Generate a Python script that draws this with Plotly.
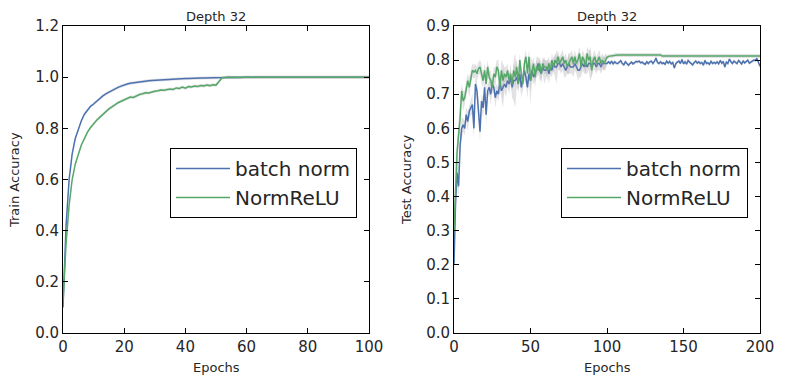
import numpy as np
import plotly.graph_objects as go

# ---- data ----
train_epochs = list(range(0, 101))
train_bn = [0.10, 0.42, 0.60, 0.70, 0.76, 0.80, 0.83, 0.855, 0.873, 0.886,
            0.895, 0.906, 0.917, 0.927, 0.935, 0.942, 0.949, 0.955, 0.960, 0.965,
            0.970, 0.973, 0.976, 0.978, 0.980, 0.982, 0.984, 0.985, 0.986, 0.987,
            0.988, 0.989, 0.990, 0.991, 0.992, 0.992, 0.993, 0.993, 0.994, 0.994,
            0.995, 0.995, 0.996, 0.996, 0.996, 0.997, 0.997, 0.997, 0.998, 0.998,
            0.998, 0.999, 0.999, 0.999, 1.000, 0.999, 1.000, 1.000, 0.999, 1.000,
            1.000, 1.000, 0.999, 1.000, 1.000, 1.000, 1.000, 0.999, 1.000, 1.000,
            1.000, 1.000, 1.000, 0.999, 1.000, 1.000, 1.000, 1.000, 1.000, 1.000,
            0.999, 1.000, 1.000, 1.000, 1.000, 1.000, 1.000, 0.999, 1.000, 1.000,
            1.000, 1.000, 1.000, 1.000, 0.999, 1.000, 1.000, 1.000, 1.000, 1.000,
            1.000]
train_nr = [0.12, 0.35, 0.50, 0.60, 0.66, 0.70, 0.735, 0.76, 0.785, 0.803,
            0.818, 0.832, 0.843, 0.855, 0.866, 0.876, 0.884, 0.893, 0.900, 0.906,
            0.912, 0.917, 0.922, 0.921, 0.928, 0.932, 0.935, 0.939, 0.938, 0.943,
            0.945, 0.947, 0.950, 0.949, 0.953, 0.954, 0.952, 0.958, 0.956, 0.961,
            0.957, 0.963, 0.962, 0.965, 0.964, 0.967, 0.966, 0.969, 0.967, 0.970,
            0.969, 0.985, 0.998, 0.999, 1.000, 1.000, 0.999, 1.000, 1.000, 1.000,
            1.000, 0.999, 1.000, 1.000, 1.000, 1.000, 1.000, 1.000, 0.999, 1.000,
            1.000, 1.000, 1.000, 1.000, 1.000, 0.999, 1.000, 1.000, 1.000, 1.000,
            1.000, 1.000, 0.999, 1.000, 1.000, 1.000, 1.000, 1.000, 1.000, 1.000,
            0.999, 1.000, 1.000, 1.000, 1.000, 1.000, 1.000, 1.000, 0.999, 1.000,
            1.000]
train_bn_sd = [0.006] * 101
train_nr_sd = [0.006] * 101

test_epochs = list(range(0, 201))
test_bn = [0.20, 0.38, 0.47, 0.43, 0.55, 0.60, 0.61, 0.60, 0.64, 0.62,
           0.65, 0.66, 0.67, 0.60, 0.73, 0.71, 0.66, 0.59, 0.68, 0.66,
           0.72, 0.64, 0.71, 0.72, 0.70, 0.73, 0.72, 0.69, 0.71, 0.70,
           0.74, 0.71, 0.72, 0.73, 0.72, 0.74, 0.73, 0.75, 0.72, 0.74,
           0.74, 0.75, 0.73, 0.76, 0.72, 0.74, 0.77, 0.75, 0.72, 0.76,
           0.74, 0.77, 0.75, 0.76, 0.78, 0.79, 0.77, 0.76, 0.78, 0.77,
           0.77, 0.78, 0.76, 0.78, 0.77, 0.79, 0.78, 0.78, 0.79, 0.79,
           0.78, 0.79, 0.78, 0.77, 0.78, 0.79, 0.78, 0.78, 0.78, 0.79,
           0.78, 0.77, 0.77, 0.78, 0.79, 0.78, 0.79, 0.78, 0.79, 0.79,
           0.78, 0.79, 0.79, 0.78, 0.79, 0.79, 0.78, 0.79, 0.79, 0.79,
           0.79, 0.795, 0.79, 0.797, 0.788, 0.795, 0.791, 0.79, 0.793, 0.798,
           0.79, 0.786, 0.795, 0.79, 0.785, 0.79, 0.794, 0.789, 0.793, 0.796,
           0.795, 0.797, 0.792, 0.794, 0.79, 0.788, 0.795, 0.79, 0.795, 0.797,
           0.79, 0.796, 0.806, 0.793, 0.79, 0.795, 0.79, 0.792, 0.788, 0.797,
           0.791, 0.796, 0.789, 0.793, 0.777, 0.79, 0.794, 0.797, 0.79, 0.802,
           0.789, 0.795, 0.788, 0.799, 0.794, 0.79, 0.786, 0.793, 0.797, 0.791,
           0.795, 0.79, 0.793, 0.785, 0.799, 0.79, 0.792, 0.788, 0.796, 0.79,
           0.793, 0.79, 0.795, 0.789, 0.799, 0.791, 0.796, 0.78, 0.794, 0.79,
           0.803, 0.795, 0.79, 0.797, 0.793, 0.79, 0.799, 0.794, 0.789, 0.797,
           0.792, 0.796, 0.80, 0.791, 0.795, 0.797, 0.80, 0.799, 0.805, 0.79,
           0.782]
test_nr = ([0.30, 0.45, 0.53, 0.58, 0.63, 0.71, 0.68, 0.69, 0.72, 0.74,
            0.72, 0.75, 0.77, 0.765, 0.77, 0.76, 0.775, 0.78, 0.76, 0.74,
            0.77, 0.73, 0.78, 0.75, 0.74, 0.72, 0.76, 0.75, 0.78, 0.77,
            0.72, 0.77, 0.74, 0.76, 0.75, 0.77, 0.74, 0.76, 0.73, 0.77,
            0.75, 0.78, 0.73, 0.80, 0.76, 0.73, 0.79, 0.81, 0.76, 0.81,
            0.74, 0.77, 0.79, 0.75, 0.78, 0.77, 0.79, 0.76, 0.79, 0.78,
            0.78, 0.77, 0.79, 0.77, 0.80, 0.78, 0.80, 0.79, 0.81, 0.79,
            0.80, 0.81, 0.79, 0.80, 0.78, 0.79, 0.80, 0.81, 0.79, 0.81,
            0.79, 0.80, 0.82, 0.78, 0.81, 0.80, 0.78, 0.82, 0.80, 0.81,
            0.77, 0.80, 0.81, 0.79, 0.80, 0.81, 0.79, 0.80, 0.79, 0.80,
            0.808, 0.811, 0.812, 0.812, 0.812]
           + [0.815] * 31 + [0.812] * 65)
test_bn_sd = ([0.05, 0.04, 0.04, 0.03, 0.03, 0.03, 0.02, 0.02, 0.02, 0.03,
               0.02, 0.02, 0.03, 0.03, 0.02, 0.03, 0.03, 0.03, 0.02, 0.03,
               0.03, 0.03, 0.02, 0.02, 0.03, 0.02, 0.02, 0.03, 0.02, 0.02,
               0.03, 0.02, 0.06, 0.02, 0.03, 0.02, 0.03, 0.02, 0.03, 0.06,
               0.08, 0.03, 0.02, 0.03, 0.03, 0.02, 0.03, 0.02, 0.03, 0.02,
               0.07, 0.03, 0.02, 0.02, 0.03, 0.02, 0.03, 0.02, 0.02, 0.04,
               0.02, 0.02, 0.03, 0.02, 0.02, 0.02, 0.03, 0.05, 0.02, 0.02,
               0.02, 0.02, 0.03, 0.02, 0.02, 0.03, 0.02, 0.02, 0.03, 0.02,
               0.02, 0.03, 0.02, 0.03, 0.02, 0.02, 0.03, 0.02, 0.02, 0.05,
               0.03, 0.02, 0.02, 0.02, 0.02, 0.02, 0.02, 0.02, 0.02, 0.02]
              + [0.005] * 101)
test_nr_sd = ([0.05, 0.05, 0.04, 0.04, 0.03, 0.02, 0.03, 0.02, 0.02, 0.02,
               0.03, 0.02, 0.02, 0.02, 0.02, 0.02, 0.02, 0.02, 0.03, 0.02,
               0.02, 0.03, 0.02, 0.02, 0.03, 0.02, 0.02, 0.03, 0.02, 0.03,
               0.02, 0.03, 0.05, 0.02, 0.03, 0.02, 0.02, 0.03, 0.02, 0.02,
               0.03, 0.02, 0.03, 0.02, 0.02, 0.03, 0.02, 0.02, 0.03, 0.02,
               0.03, 0.02, 0.02, 0.03, 0.02, 0.02, 0.02, 0.03, 0.02, 0.02,
               0.02, 0.03, 0.02, 0.02, 0.02, 0.02, 0.02, 0.02, 0.02, 0.02,
               0.02, 0.02, 0.02, 0.02, 0.02, 0.03, 0.02, 0.02, 0.02, 0.02,
               0.02, 0.02, 0.02, 0.02, 0.02, 0.02, 0.02, 0.02, 0.03, 0.02,
               0.02, 0.02, 0.02, 0.02, 0.02, 0.02, 0.02, 0.02, 0.02, 0.02]
              + [0.006] * 101)

names = ["batch norm", "NormReLU"]
colors = ["#4C72B0", "#55A868"]
band_color = "rgba(140,140,150,0.25)"
font = "DejaVu Sans"

fig = go.Figure()


def add_series(x, y, sd, name, color, xa, ya, legend):
    y = np.array(y)
    sd = np.array(sd)
    fig.add_trace(go.Scatter(x=x, y=y + sd, mode="lines", line=dict(width=0),
                             xaxis=xa, yaxis=ya, showlegend=False, hoverinfo="skip"))
    fig.add_trace(go.Scatter(x=x, y=y - sd, mode="lines", line=dict(width=0),
                             fill="tonexty", fillcolor=band_color,
                             xaxis=xa, yaxis=ya, showlegend=False, hoverinfo="skip"))
    fig.add_trace(go.Scatter(x=x, y=y, mode="lines", name=name,
                             line=dict(color=color, width=1.5),
                             xaxis=xa, yaxis=ya, legend=legend))


add_series(train_epochs, train_bn, train_bn_sd, names[0], colors[0], "x", "y", "legend")
add_series(train_epochs, train_nr, train_nr_sd, names[1], colors[1], "x", "y", "legend")
add_series(test_epochs, test_bn, test_bn_sd, names[0], colors[0], "x2", "y2", "legend2")
add_series(test_epochs, test_nr, test_nr_sd, names[1], colors[1], "x2", "y2", "legend2")

# page has an 8px body margin, so the figure is 8px smaller and positions shifted
OFF = 8
W, H = 785 - OFF, 384 - OFF


def px(x):
    return (x - OFF) / W


def py(y):
    return 1 - (y - OFF) / H


ax_common = dict(showline=True, linecolor="black", linewidth=1, mirror="ticks",
                 ticks="inside", ticklen=5, tickcolor="black", showgrid=False,
                 zeroline=False, automargin=False,
                 tickfont=dict(family=font, size=15, color="#262626"))

legend_common = dict(y=py(148), xanchor="left", yanchor="top",
                     bordercolor="black", borderwidth=1, bgcolor="white",
                     traceorder="normal", itemwidth=54,
                     font=dict(family=font, size=20, color="#262626"))

fig.update_layout(
    width=W, height=H,
    margin=dict(l=0, r=0, t=0, b=0),
    paper_bgcolor="white", plot_bgcolor="white",
    font=dict(family=font, color="#262626"),
    xaxis=dict(domain=[px(63), px(369)], range=[0, 100], dtick=20, anchor="y", **ax_common),
    yaxis=dict(domain=[py(333), py(26)], range=[0, 1.2], dtick=0.2,
               tickformat=".1f", anchor="x", **ax_common),
    xaxis2=dict(domain=[px(454), px(760)], range=[0, 200], dtick=50, anchor="y2", **ax_common),
    yaxis2=dict(domain=[py(333), py(26)], range=[0, 0.9], dtick=0.1,
                tickformat=".1f", anchor="x2", **ax_common),
    legend=dict(x=px(170), **legend_common),
    legend2=dict(x=px(561), **legend_common),
)

lab = dict(family=font, size=13, color="#262626")
annots = [
    (px(216), py(16), "Depth 32", 0), (px(607), py(16), "Depth 32", 0),
    (px(216), py(367), "Epochs", 0), (px(607), py(367), "Epochs", 0),
    (px(15), py(180), "Train Accuracy", -90), (px(407), py(180), "Test Accuracy", -90),
]
for ax_, ay_, txt, ang in annots:
    fig.add_annotation(x=ax_, y=ay_, xref="paper", yref="paper", text=txt, textangle=ang,
                       showarrow=False, xanchor="center", yanchor="middle", font=lab)

fig.write_html("out.html")
